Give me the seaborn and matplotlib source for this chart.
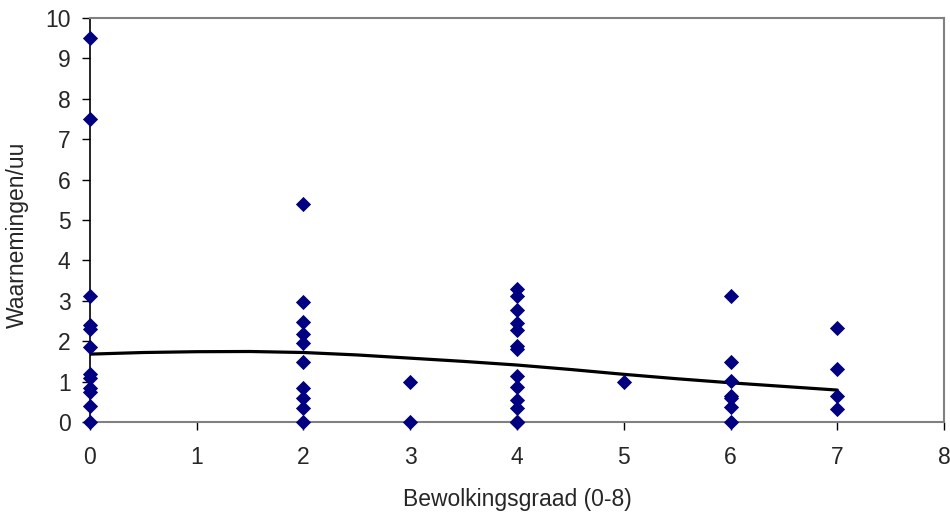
import matplotlib
matplotlib.use("Agg")
import matplotlib.pyplot as plt
import seaborn as sns
import pandas as pd

# Observations: cloud cover (0-8) vs observations per hour
bewolking = [0] * 12 + [2] * 10 + [3] * 2 + [4] * 14 + [5] + [6] * 7 + [7] * 4
waarnemingen = [
    9.5, 7.5, 3.13, 2.4, 2.3, 1.86, 1.2, 1.1, 0.85, 0.75, 0.4, 0.0,
    5.4, 2.97, 2.48, 2.19, 1.95, 1.48, 0.83, 0.59, 0.34, 0.0,
    1.0, 0.0,
    3.3, 3.12, 2.77, 2.44, 2.28, 1.88, 1.8, 1.15, 0.87, 0.54, 0.34, 0.0, 0.0, 0.0,
    1.0,
    3.12, 1.49, 1.02, 0.64, 0.6, 0.38, 0.0,
    2.32, 1.31, 0.64, 0.31,
]

# Trend line
trend_x = [0, 0.5, 1, 1.5, 2, 2.5, 3, 3.5, 4, 4.5, 5, 5.5, 6, 6.5, 7]
trend_y = [1.68, 1.72, 1.74, 1.745, 1.72, 1.66, 1.58, 1.50, 1.41, 1.30, 1.18, 1.07, 0.97, 0.88, 0.79]

x_ticks = list(range(0, 9))
y_ticks = list(range(0, 11))

df = pd.DataFrame({"bewolking": bewolking, "waarnemingen": waarnemingen})
trend = pd.DataFrame({"x": trend_x, "y": trend_y})

sns.set_style("white")
plt.rcParams["font.family"] = ["Liberation Sans", "DejaVu Sans"]

fig = plt.figure(figsize=(9.5, 5.17), dpi=100)
ax = fig.add_axes([0.0947, 0.1838, 0.899, 0.7812])

sns.lineplot(trend, x="x", y="y", color="black", linewidth=2.3, ax=ax, zorder=2)
sns.scatterplot(
    df, x="bewolking", y="waarnemingen", marker="D", s=60,
    color="#000080", linewidth=0, ax=ax, zorder=3, clip_on=False,
)

ax.set_xlim(0, 8)
ax.set_ylim(0, 10)
ax.set_xticks(x_ticks)
ax.set_yticks(y_ticks)

for side in ["top", "right", "bottom"]:
    ax.spines[side].set_color("#808080")
    ax.spines[side].set_linewidth(1.5)
ax.spines["left"].set_color("black")
ax.spines["left"].set_linewidth(1.2)

ax.tick_params(axis="both", direction="out", length=6, width=1, color="black",
               labelsize=16.5, left=True, bottom=True)
ax.tick_params(axis="x", pad=11)
ax.tick_params(axis="y", pad=8)

ax.set_xlabel("Bewolkingsgraad (0-8)", fontsize=16.5)
ax.set_ylabel("Waarnemingen/uu", fontsize=16.5)
ax.xaxis.set_label_coords(0.5, -0.163)
ax.yaxis.set_label_coords(-0.072, 0.463)

fig.savefig("out.png", dpi=100)
